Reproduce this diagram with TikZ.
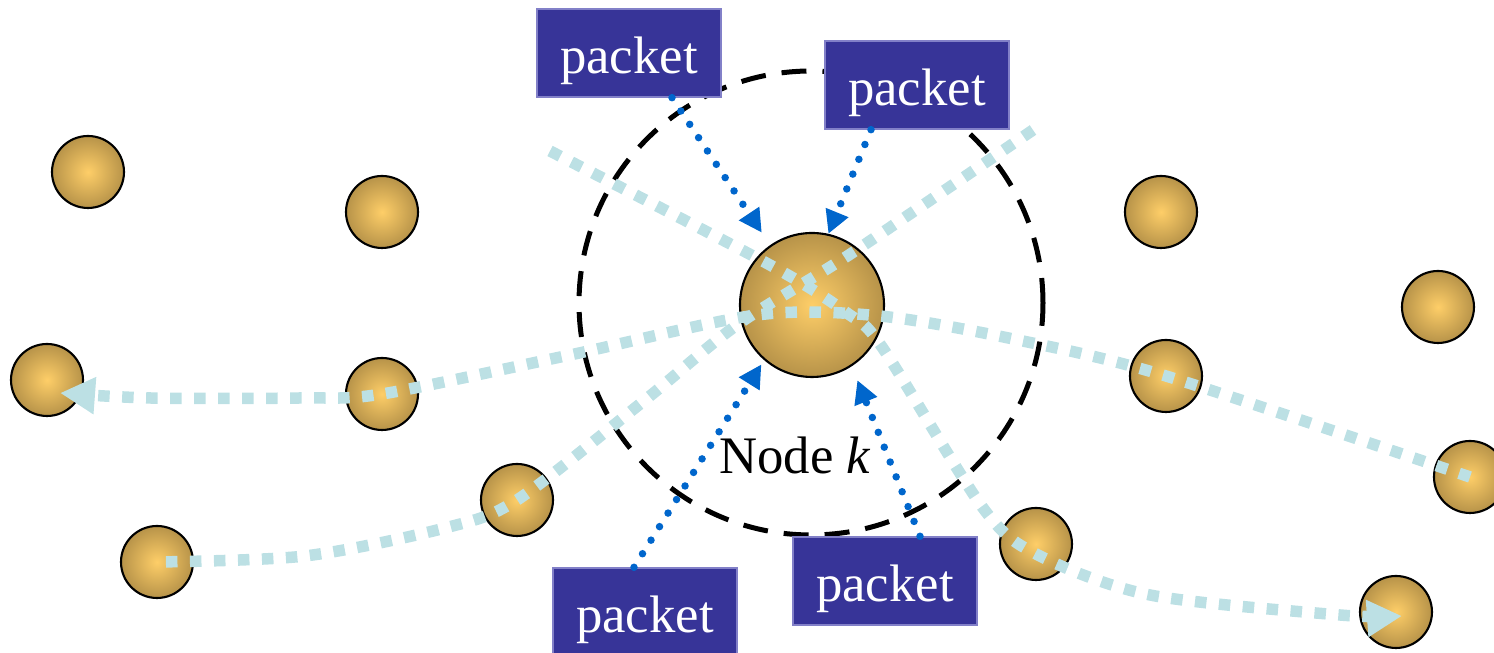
\documentclass[tikz,border=0pt]{standalone}
\usepackage{fontspec}
\setmainfont{Liberation Serif}
\usetikzlibrary{arrows.meta,calc}
\definecolor{ballin}{RGB}{254,206,104}
\definecolor{ballout}{RGB}{112,88,42}
\definecolor{pktblue}{RGB}{55,52,152}
\definecolor{pktedge}{RGB}{130,128,200}
\definecolor{dotblue}{RGB}{0,102,204}
\definecolor{trailblue}{RGB}{188,224,228}
\pgfdeclareradialshading{ballshade}{\pgfpoint{0bp}{0bp}}{color(0bp)=(ballin); color(50bp)=(ballout)}
\tikzset{
  ball/.style={circle,draw=black,line width=0.6pt,shading=ballshade,minimum size=0.72cm,inner sep=0pt},
  pkt/.style={fill=pktblue,draw=pktedge,line width=0.4pt,text=white,minimum width=1.84cm,minimum height=0.88cm,inner sep=0pt,text height=11.4pt,text depth=0pt,font=\fontsize{15}{18}\selectfont},
  trail/.style={trailblue,line width=0.115cm,dash pattern=on 0.115cm off 0.125cm},
  trailtip/.style={-{Triangle[length=0.35cm,width=0.35cm]}},
  pktarrow/.style={dotblue,line width=0.075cm,line cap=round,dash pattern=on 0pt off 0.16cm,-{Triangle[length=0.23cm,width=0.23cm]}},
  rangecircle/.style={circle,draw=black,line width=0.05cm,dash pattern=on 0.25cm off 0.16cm,minimum size=4.64cm,inner sep=0pt}
}
\begin{document}
\begin{tikzpicture}
  \useasboundingbox (0,0) rectangle (14.94,6.53);
  % range of node k
  \node[rangecircle] (range) at (8.11,3.50) {};
  \node[font=\fontsize{15}{18}\selectfont] (lbl) at (7.95,1.98) {Node \textit{k}};
  % nodes around
  \node[ball] (s1) at (0.88,4.81) {};
  \node[ball] (s2) at (3.82,4.41) {};
  \node[ball] (s3) at (0.47,2.73) {};
  \node[ball] (s4) at (3.82,2.59) {};
  \node[ball] (s5) at (5.17,1.53) {};
  \node[ball] (s6) at (1.57,0.91) {};
  \node[ball] (s7) at (11.61,4.41) {};
  \node[ball] (s8) at (14.38,3.46) {};
  \node[ball] (s9) at (11.66,2.77) {};
  \node[ball] (s10) at (14.70,1.76) {};
  \node[ball] (s11) at (10.36,1.09) {};
  \node[ball] (s12) at (13.96,0.41) {};
  \node[ball,minimum size=1.44cm] (k) at (8.12,3.48) {};
  % routes through node k
  \draw[trail,trailtip] plot[smooth] coordinates {(s10.center) (s9.center) (10.18,3.13) (8.80,3.37) (7.57,3.38) (5.70,2.98) (s4.center) (3.00,2.55) (1.50,2.55) ($(s3.center)+(0.13,-0.13)$)};
  \draw[trail,trailtip] plot[smooth] coordinates {(5.50,5.02) (7.70,3.88) (8.47,3.40) (8.82,3.06) (9.83,1.45) (10.38,0.98) (11.50,0.58) (13.40,0.38) ($(s12.center)+(0.06,-0.04)$)};
  \draw[trail] plot[smooth] coordinates {(10.33,5.23) (8.52,4.00) (7.37,3.28) (6.45,2.53) (s5.center) (4.45,1.25) (3.05,0.97) (s6.center)};
  % packets
  \node[pkt] (p1) at (6.29,6.00) {packet};
  \node[pkt] (p2) at (9.17,5.68) {packet};
  \node[pkt] (p3) at (6.45,0.41) {packet};
  \node[pkt] (p4) at (8.85,0.72) {packet};
  \draw[pktarrow,shorten >=0.15cm] ($(p1.south)+(0.43,0)$) -- (k.125);
  \draw[pktarrow] ($(p2.south)+(-0.46,0)$) -- (k.77);
  \draw[pktarrow,shorten >=0.05cm] ($(p3.north)+(-0.11,0)$) -- (k.229);
  \draw[pktarrow,shorten >=0.15cm] ($(p4.north)+(0.35,0)$) -- (k.303);
\end{tikzpicture}
\end{document}
